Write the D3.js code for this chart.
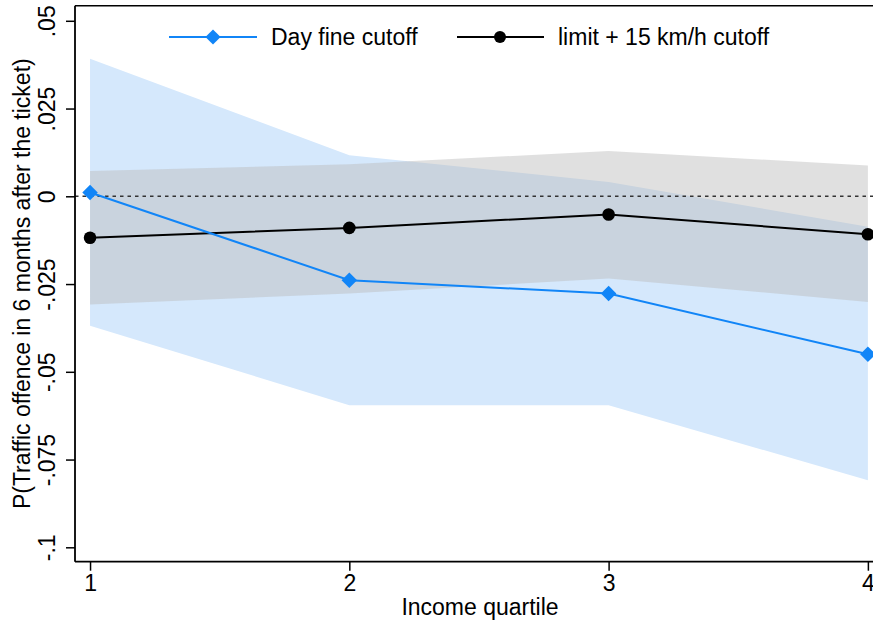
<!DOCTYPE html>
<html>
<head>
<meta charset="utf-8">
<script src="https://cdn.jsdelivr.net/npm/d3@7"></script>
<style>
  body { margin: 0; background: #fff; }
  svg { display: block; font-family: "Liberation Sans", Arial, sans-serif; }
</style>
</head>
<body>
<div id="chart"></div>
<script>
// data
const quartiles = [1, 2, 3, 4];
const dayFine = [0.0011, -0.0239, -0.0277, -0.0450];
const dayFineHi = [0.0392, 0.0117, 0.0041, -0.0087];
const dayFineLo = [-0.0369, -0.0595, -0.0595, -0.0809];
const limit15 = [-0.0118, -0.0090, -0.0052, -0.0108];
const limit15Hi = [0.0072, 0.0091, 0.0129, 0.0088];
const limit15Lo = [-0.0308, -0.0277, -0.0234, -0.0301];
const yTicks = [0.05, 0.025, 0, -0.025, -0.05, -0.075, -0.1];
const yTickLabels = [".05", ".025", "0", "-.025", "-.05", "-.075", "-.1"];

const W = 873, H = 626;
const plotL = 75, plotR = 885, plotT = 5.7, plotB = 561.7;

const svg = d3.select("#chart").append("svg")
    .attr("width", W).attr("height", H);

let x = d3.scaleLinear().domain([0.942, 4.066]).range([plotL, plotR]);
let y = d3.scaleLinear().domain([-0.1041, 0.0543]).range([plotB, plotT]);

const blue = "#1185f7";

// confidence bands
function band(hi, lo) {
    return d3.area()
        .x((d, i) => x(quartiles[i]))
        .y0((d, i) => y(lo[i]))
        .y1((d, i) => y(hi[i]))(hi);
}
svg.append("path").attr("d", band(dayFineHi, dayFineLo)).attr("fill", "rgb(213,232,252)");
svg.append("path").attr("d", band(limit15Hi, limit15Lo)).attr("fill", "rgba(186,186,186,0.45)");

// zero reference line
svg.append("line")
    .attr("x1", plotL).attr("x2", plotR)
    .attr("y1", y(0)).attr("y2", y(0))
    .attr("stroke", "#333").attr("stroke-width", 1.6)
    .attr("stroke-dasharray", "3.5,4");

// lines
let line = d3.line().x((d, i) => x(quartiles[i])).y(d => y(d));
svg.append("path").attr("d", line(limit15)).attr("fill", "none")
    .attr("stroke", "#000").attr("stroke-width", 2);
svg.append("path").attr("d", line(dayFine)).attr("fill", "none")
    .attr("stroke", blue).attr("stroke-width", 2);

const diamond = d3.symbol().type(d3.symbolSquare).size(120)();
svg.selectAll(".pt1").data(limit15).join("circle")
    .attr("cx", (d, i) => x(quartiles[i])).attr("cy", d => y(d))
    .attr("r", 6.3).attr("fill", "#000");
svg.selectAll(".pt2").data(dayFine).join("path")
    .attr("d", diamond)
    .attr("transform", (d, i) => `translate(${x(quartiles[i])},${y(d)}) rotate(45)`)
    .attr("fill", blue);

// frame
svg.append("line").attr("x1", plotL).attr("x2", plotR).attr("y1", plotT).attr("y2", plotT)
    .attr("stroke", "#000").attr("stroke-width", 1.5);

// axes
const yAxis = svg.append("g").attr("transform", `translate(${plotL},0)`)
    .call(d3.axisLeft(y).tickValues(yTicks).tickFormat((d, i) => yTickLabels[i]).tickSize(9));
yAxis.select(".domain").attr("d", `M0,${plotT}V${plotB}`).attr("stroke-width", 1.8);
yAxis.selectAll(".tick line").attr("stroke-width", 1.5);
yAxis.selectAll(".tick text")
    .attr("x", 0).attr("y", 0).attr("dy", null)
    .attr("transform", "translate(-28,0) rotate(-90)")
    .attr("text-anchor", "middle").attr("dominant-baseline", "central")
    .style("font-size", "23px").attr("fill", "#000");

const xAxis = svg.append("g").attr("transform", `translate(0,${plotB})`)
    .call(d3.axisBottom(x).tickValues(quartiles).tickFormat(d3.format("d")).tickSize(9).tickPadding(4));
xAxis.select(".domain").attr("d", `M${plotL},0H${plotR}`).attr("stroke-width", 1.8);
xAxis.selectAll(".tick line").attr("stroke-width", 1.5);
xAxis.selectAll(".tick text").style("font-size", "23px").attr("fill", "#000");

// axis titles
svg.append("text")
    .attr("transform", `translate(22,${(plotT + plotB) / 2}) rotate(-90)`)
    .attr("text-anchor", "middle").attr("dominant-baseline", "central")
    .style("font-size", "23px")
    .text("P(Traffic offence in 6 months after the ticket)");
svg.append("text")
    .attr("x", (plotL + plotR) / 2).attr("y", 607)
    .attr("text-anchor", "middle").attr("dominant-baseline", "central")
    .style("font-size", "23px")
    .text("Income quartile");

// legend
const legY = 37;
const leg = svg.append("g");
leg.append("line").attr("x1", 169).attr("x2", 257).attr("y1", legY).attr("y2", legY)
    .attr("stroke", blue).attr("stroke-width", 2);
leg.append("path").attr("d", d3.symbol().type(d3.symbolSquare).size(115)())
    .attr("transform", `translate(213,${legY}) rotate(45)`).attr("fill", blue);
leg.append("text").attr("x", 271).attr("y", legY).attr("dominant-baseline", "central")
    .style("font-size", "23px").text("Day fine cutoff");
leg.append("line").attr("x1", 457).attr("x2", 544).attr("y1", legY).attr("y2", legY)
    .attr("stroke", "#000").attr("stroke-width", 2);
leg.append("circle").attr("cx", 500).attr("cy", legY).attr("r", 6).attr("fill", "#000");
leg.append("text").attr("x", 558).attr("y", legY).attr("dominant-baseline", "central")
    .style("font-size", "23px").text("limit + 15 km/h cutoff");
</script>
</body>
</html>
